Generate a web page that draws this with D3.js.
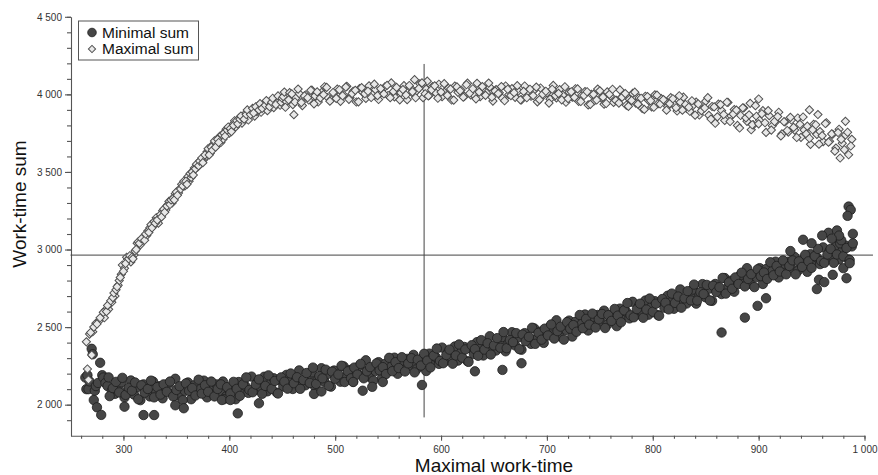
<!DOCTYPE html>
<html>
<head>
<meta charset="utf-8">
<script src="https://d3js.org/d3.v7.min.js"></script>
<style>
  body { margin: 0; background: #fff; }
  text { font-family: "Liberation Sans", Arial, sans-serif; }
</style>
</head>
<body>
<svg id="svg" width="878" height="475"></svg>
<script>
// [work-time, sum]
const minSum = [
  [264,2175],[265,2100],[266,2190],[267,2100],[268,2150],[270,2360],[271,2325],[272,2030],[273,2090],[274,2120],
  [275,1983],[276,2140],[278,2270],[279,1934],[280,2190],[281,2175],[283,2140],[285,2120],
  [286,2176],[289,2090],[292,2070],[295,2116],[298,2144],[301,2046],[304,2092],[307,2156],[310,2065],[313,2113],
  [316,2029],[319,2131],[322,2101],[325,2053],[328,2149],[331,2083],[334,2119],[337,2041],[340,2095],[343,2137],
  [346,2071],[349,2167],[352,2059],[355,2107],[358,2089],[361,2143],[364,2035],[367,2125],[370,2077],[373,2101],
  [376,2155],[379,2047],[382,2113],[385,2065],[388,2131],[391,2083],[394,2149],[397,2053],[400,2095],[403,2122],
  [406,2035],[409,2146],[412,2100],[415,2121],[418,2076],[421,2181],[424,2093],[427,2150],[430,2111],[433,2180],
  [436,2086],[439,2137],[442,2170],[445,2077],[448,2157],[451,2117],[454,2192],[457,2146],[460,2101],[463,2176],
  [466,2221],[469,2140],[472,2125],[475,2175],[478,2208],[481,2115],[484,2166],[487,2235],[490,2147],[493,2198],
  [496,2116],[499,2220],[502,2193],[505,2148],[508,2247],[511,2184],[514,2223],[517,2148],[520,2205],[523,2250],
  [526,2187],[529,2286],[532,2181],[535,2232],[538,2217],[541,2274],[544,2169],[547,2262],[550,2217],[553,2245],
  [556,2303],[559,2199],[562,2269],[565,2225],[568,2295],[571,2251],[574,2321],[577,2229],[580,2275],[583,2303],
  [586,2217],[589,2329],[592,2285],[595,2307],[598,2263],[601,2368],[604,2282],[607,2341],[610,2304],[613,2375],
  [616,2284],[619,2337],[622,2372],[625,2280],[628,2363],[631,2326],[634,2403],[637,2360],[640,2317],[643,2394],
  [646,2441],[649,2362],[652,2349],[655,2402],[658,2436],[661,2344],[664,2397],[667,2467],[670,2382],[673,2434],
  [676,2354],[679,2461],[682,2435],[685,2392],[688,2492],[691,2431],[694,2471],[697,2398],[700,2456],[703,2503],
  [706,2442],[709,2544],[712,2441],[715,2495],[718,2482],[721,2542],[724,2439],[727,2534],[730,2492],[733,2521],
  [736,2581],[739,2478],[742,2549],[745,2507],[748,2578],[751,2535],[754,2606],[757,2515],[760,2562],[763,2591],
  [766,2506],[769,2619],[772,2576],[775,2599],[778,2556],[781,2663],[784,2578],[787,2637],[790,2600],[793,2671],
  [796,2580],[799,2633],[802,2667],[805,2577],[808,2661],[811,2625],[814,2702],[817,2660],[820,2618],[823,2695],
  [826,2743],[829,2665],[832,2652],[835,2706],[838,2742],[841,2651],[844,2705],[847,2777],[850,2692],[853,2747],
  [856,2669],[859,2778],[862,2755],[865,2713],[868,2816],[871,2756],[874,2799],[877,2728],[880,2788],[883,2837],
  [886,2778],[889,2880],[892,2779],[895,2834],[898,2822],[901,2880],[904,2778],[907,2874],[910,2832],[913,2862],
  [916,2922],[919,2820],[922,2892],[925,2850],[928,2922],[931,2880],[934,2952],[937,2862],[940,2910],[943,2940],
  [946,2856],[949,2970],[952,2926],[955,2948],[958,2906],[961,3014],[964,2930],[967,2990],[970,2954],[973,3026],
  [976,2936],[979,2990],[982,3026],[985,2936],[988,3020],
  [287,2055],[290,2107],[293,2147],[296,2079],[299,2173],[302,2063],[305,2109],[308,2090],[311,2143],[314,2035],
  [317,2125],[320,2077],[323,2101],[326,2155],[329,2047],[332,2113],[335,2065],[338,2131],[341,2083],[344,2149],
  [347,2053],[350,2095],[353,2119],[356,2029],[359,2137],[362,2089],[365,2107],[368,2059],[371,2161],[374,2071],
  [377,2125],[380,2083],[383,2149],[386,2053],[389,2101],[392,2131],[395,2035],[398,2113],[401,2072],[404,2147],
  [407,2102],[410,2057],[413,2131],[416,2176],[419,2095],[422,2080],[425,2130],[428,2163],[431,2070],[434,2121],
  [437,2189],[440,2102],[443,2153],[446,2072],[449,2176],[452,2148],[455,2103],[458,2201],[461,2138],[464,2177],
  [467,2102],[470,2159],[473,2204],[476,2140],[479,2239],[482,2134],[485,2185],[488,2170],[491,2226],[494,2121],
  [497,2213],[500,2167],[503,2194],[506,2251],[509,2146],[512,2215],[515,2170],[518,2239],[521,2194],[524,2263],
  [527,2170],[530,2215],[533,2242],[536,2155],[539,2266],[542,2221],[545,2242],[548,2197],[551,2302],[554,2216],
  [557,2274],[560,2236],[563,2306],[566,2214],[569,2266],[572,2300],[575,2208],[578,2290],[581,2252],[584,2328],
  [587,2284],[590,2240],[593,2316],[596,2362],[599,2282],[602,2267],[605,2320],[608,2355],[611,2264],[614,2317],
  [617,2388],[620,2303],[623,2356],[626,2276],[629,2383],[632,2358],[635,2315],[638,2416],[641,2355],[644,2396],
  [647,2323],[650,2382],[653,2429],[656,2367],[659,2468],[662,2364],[665,2417],[668,2403],[671,2461],[674,2358],
  [677,2452],[680,2409],[683,2437],[686,2496],[689,2392],[692,2463],[695,2419],[698,2490],[701,2446],[704,2517],
  [707,2426],[710,2474],[713,2503],[716,2419],[719,2532],[722,2490],[725,2513],[728,2470],[731,2578],[734,2493],
  [737,2553],[740,2516],[743,2587],[746,2497],[749,2550],[752,2585],[755,2494],[758,2577],[761,2540],[764,2617],
  [767,2574],[770,2531],[773,2608],[776,2655],[779,2576],[782,2563],[785,2616],[788,2651],[791,2560],[794,2613],
  [797,2684],[800,2599],[803,2651],[806,2573],[809,2681],[812,2657],[815,2614],[818,2716],[821,2656],[824,2697],
  [827,2625],[830,2685],[833,2732],[836,2672],[839,2774],[842,2671],[845,2725],[848,2713],[851,2772],[854,2671],
  [857,2767],[860,2726],[863,2757],[866,2817],[869,2716],[872,2788],[875,2747],[878,2820],[881,2778],[884,2851],
  [887,2762],[890,2810],[893,2841],[896,2758],[899,2872],[902,2828],[905,2852],[908,2810],[911,2918],[914,2834],
  [917,2894],[920,2858],[923,2930],[926,2840],[929,2894],[932,2930],[935,2840],[938,2924],[941,2888],[944,2966],
  [947,2924],[950,2882],[953,2958],[956,3004],[959,2926],[962,2914],[965,2968],[968,3004],[971,2914],[974,2968],
  [977,3040],[980,2956],[983,3010],[986,2932],[989,3040],
  // scattered points
  [301,1987],[319,1933],[329,1933],[349,1996],[357,1977],[408,1944],[393,2030],[401,2030],[428,2009],[480,2069],
  [487,2085],[526,2090],[535,2115],[545,2146],[517,2146],[582,2127],[632,2215],[658,2224],[676,2267],[865,2465],
  [887,2561],[899,2637],[907,2686],[955,2745],[983,2815],[970,2837],[985,3277],[987,3256],[984,3217],[989,3101],
  [942,3063],[966,3108],[974,3123],[960,3090],[950,3040],[978,3060],[930,2990],[957,2805],[962,2790],[980,2880],
  [986,2912],[976,3090],[969,3070]
];

const maxSum = [
  [265,2405],[266,2230],[267,2160],[268,2455],[270,2320],[271,2470],[274,2525],[277,2540],[280,2570],[282,2560],
  [283,2610],[286,2615],[287,2650],[289,2660],[292,2700],[295,2770],[296,2800],[298,2840],[299,2900],[301,2880],
  [303,2950],[304,2935],[307,2920],[310,2965],[311,2990],[313,3040],[316,3030],[318,3060],[319,3075],[322,3090],
  [323,3120],[325,3140],[328,3150],[331,3205],[333,3170],[334,3200],[337,3250],[340,3255],[342,3290],[343,3310],
  [346,3300],[349,3360],[352,3365],[353,3390],[355,3420],[358,3410],[361,3470],[362,3440],[364,3465],[367,3525],
  [370,3530],[373,3575],[376,3580],[378,3600],[379,3630],[382,3620],[385,3680],[388,3670],[391,3730],[392,3690],
  [394,3710],[397,3775],[400,3750],[403,3805],[405,3830],[406,3790],[409,3845],[412,3815],[413,3850],[415,3875],
  [418,3835],[419,3880],[421,3895],[424,3860],[426,3890],[427,3925],[430,3885],[432,3920],[433,3940],[436,3895],
  [437,3930],[439,3955],[442,3915],[443,3950],[445,3970],[447,3960],[448,3930],
  [269,2465],[272,2500],[275,2520],[278,2560],[281,2595],[284,2600],[285,2640],[288,2670],[290,2690],[291,2720],
  [293,2740],[294,2760],[297,2820],[300,2860],[302,2910],[305,2940],[306,2960],[308,2950],[309,2940],[312,3000],
  [314,3050],[315,3040],[317,3070],[320,3060],[321,3100],[324,3110],[326,3160],[327,3140],[329,3180],[330,3170],
  [332,3190],[335,3225],[336,3210],[338,3260],[339,3240],[341,3280],[344,3290],[345,3320],[347,3330],[348,3320],
  [350,3370],[351,3350],[354,3390],[356,3410],[357,3440],[359,3440],[360,3420],[363,3490],[365,3500],[366,3480],
  [368,3520],[369,3550],[371,3540],[372,3570],[374,3590],[375,3560],[377,3610],[380,3650],[381,3610],[383,3660],
  [384,3640],[386,3700],[387,3660],[389,3710],[390,3690],[393,3740],[395,3750],[396,3730],[398,3770],[399,3790],
  [401,3780],[402,3760],[404,3800],[407,3830],[408,3810],[410,3840],[411,3860],[414,3840],[416,3870],[417,3900],
  [420,3870],[422,3910],[423,3880],[425,3920],[428,3900],[429,3940],[431,3910],[434,3930],[435,3960],[438,3920],
  [440,3950],[441,3975],[444,3935],[446,3990],[449,3950],[450,3975],
  [451,3985],[452,4015],[454,3953],[457,4011],[460,3934],[461,3869],[463,3977],[466,4005],[469,3928],[472,3996],
  [475,3964],[478,4027],[481,3990],[484,3951],[487,4012],[490,4049],[493,3980],[496,3966],[499,4008],[502,4034],
  [505,3955],[508,3996],[511,4052],[514,3979],[517,4020],[520,3951],[523,4037],[526,4013],[529,3974],[532,4055],
  [535,4001],[538,4031],[541,3967],[544,4012],[547,4048],[550,3993],[553,4074],[556,3984],[559,4025],[562,4010],
  [565,4056],[568,3966],[571,4042],[574,4002],[575,4095],[577,4023],[580,4068],[583,3979],[586,4034],[587,4085],
  [589,3995],[592,4050],[595,4010],[598,4065],[601,3985],[604,4019],[607,4039],[610,3964],[613,4053],[616,4013],
  [619,4028],[622,3987],[625,4072],[628,3997],[631,3996],[634,4071],[637,3985],[640,4025],[643,4009],[646,4048],
  [649,3957],[652,4031],[655,4010],[658,3975],[661,4054],[664,3998],[667,4037],[670,3981],[673,4021],[676,3965],
  [679,4054],[682,4008],[685,3988],[688,4027],[691,3952],[694,4041],[697,3996],[700,4010],[703,3969],[706,4058],
  [709,3977],[712,4031],[715,3995],[718,3949],[721,4013],[724,3982],[727,4036],[730,3955],[733,3994],[736,4018],
  [739,3932],[742,4001],[745,3960],[748,4034],[751,3978],[754,3937],[757,4016],[760,3990],[763,3948],[766,3961],
  [769,4029],[772,3992],[775,3930],[778,3968],[781,4006],[784,3944],[787,3977],[790,3910],[793,3988],[796,3961],
  [799,3919],[802,3997],[805,3940],[808,3973],[811,3960],[814,3922],[817,3979],[820,3936],[823,3893],[826,3950],
  [829,3982],[832,3909],[835,3891],[838,3928],[841,3950],[844,3867],[847,3904],[850,3956],[853,3865],[856,3922],
  [859,3814],[862,3937],[865,3896],[868,3832],[871,3948],[874,3861],[877,3902],[880,3800],[883,3864],[886,3912],
  [889,3826],[892,3942],[893,3772],[895,3803],[898,3859],[900,3970],[901,3832],[904,3895],[907,3755],[910,3863],
  [913,3798],[916,3823],[919,3885],[922,3745],[925,3822],[928,3757],[931,3835],[934,3770],[937,3848],[940,3723],
  [943,3770],[946,3795],[948,3900],[949,3678],[952,3807],[955,3742],[956,3870],[958,3760],[961,3695],[964,3817],
  [967,3698],[970,3743],[973,3654],[976,3775],[977,3590],[979,3685],[982,3738],[982,3826],[985,3611],[988,3710],
  [453,3917],[456,3965],[459,4003],[462,3951],[465,4034],[468,3947],[471,3990],[474,3978],[477,4026],[480,3939],
  [483,4016],[486,3977],[489,3998],[492,4045],[495,3956],[498,4012],[501,3974],[504,4030],[507,3991],[510,4047],
  [513,3968],[516,4005],[519,4026],[522,3952],[525,4043],[528,4004],[531,4020],[534,3980],[537,4066],[540,3992],
  [543,4037],[546,4003],[549,4058],[552,3979],[555,4019],[558,4045],[561,3965],[564,4031],[567,3996],[570,4057],
  [573,4017],[576,3978],[579,4038],[582,4074],[585,4004],[588,3990],[591,4030],[594,4055],[597,3975],[600,4015],
  [603,4069],[606,3994],[609,4034],[612,3963],[615,4048],[618,4023],[621,3982],[624,4062],[627,4007],[630,4036],
  [633,3971],[636,4015],[639,4050],[642,3994],[645,4073],[648,3982],[651,4021],[654,4005],[657,4050],[660,3959],
  [663,4033],[666,3992],[669,4011],[672,4056],[675,3965],[678,4019],[681,3978],[684,4033],[687,3992],[690,4047],
  [693,3966],[696,4001],[699,4020],[702,3944],[705,4033],[708,3992],[711,4006],[714,3965],[717,4049],[720,3973],
  [723,4017],[726,3981],[729,4035],[732,3954],[735,3993],[738,4017],[741,3936],[744,4000],[747,3964],[750,4023],
  [753,3982],[756,3941],[759,4000],[762,4033],[765,3961],[768,3944],[771,3982],[774,4005],[777,3923],[780,3961],
  [783,4014],[786,3937],[789,3975],[792,3903],[795,3986],[798,3959],[801,3917],[804,3995],[807,3938],[810,3966],
  [813,3898],[816,3940],[819,3972],[822,3914],[825,3991],[828,3898],[831,3935],[834,3917],[837,3959],[840,3866],
  [843,3938],[846,3895],[849,3912],[852,3979],[855,3841],[858,3919],[861,3855],[864,3934],[867,3870],[870,3949],
  [873,3825],[876,3873],[879,3899],[882,3783],[885,3913],[888,3849],[891,3868],[894,3804],[897,3927],[900,3810],
  [903,3875],[906,3817],[909,3895],[912,3770],[915,3825],[918,3857],[921,3732],[924,3824],[927,3767],[930,3852],
  [933,3787],[936,3722],[939,3807],[942,3854],[945,3745],[948,3717],[951,3772],[954,3804],[957,3679],[960,3734],
  [963,3812],[966,3692],[969,3745],[972,3634],[975,3754],[978,3710],[981,3643],[984,3756],[987,3667]
];

const xTicks = [300, 400, 500, 600, 700, 800, 900, 1000];
const yTicks = [2000, 2500, 3000, 3500, 4000, 4500];
const vLine = [[584, 1918], [584, 4196]];
const hLine = [[250, 2964], [1008, 2964]];
const seriesNames = ["Minimal sum", "Maximal sum"];

const svg = d3.select("#svg");
const x = d3.scaleLinear().domain([250, 1000]).range([70.5, 864.5]);
const y = d3.scaleLinear().domain([1800, 4500]).range([435.7, 16.8]);
const fmt = d3.formatLocale({decimal: ".", thousands: " ", grouping: [3], currency: ["", ""]}).format(",");

// minor ticks
svg.append("g").attr("transform", "translate(0,435.7)")
  .call(d3.axisBottom(x).tickValues(d3.range(260, 1001, 20)).tickSize(3).tickFormat(""))
  .call(g => g.select(".domain").remove());
svg.append("g").attr("transform", "translate(71,0)")
  .call(d3.axisLeft(y).tickValues(d3.range(1900, 4501, 100)).tickSize(4).tickFormat(""))
  .call(g => g.select(".domain").remove());

svg.append("g").attr("transform", "translate(0,435.7)")
  .call(d3.axisBottom(x).tickValues(xTicks).tickSize(5).tickSizeOuter(0).tickPadding(5).tickFormat(fmt));
svg.append("g").attr("transform", "translate(71,0)")
  .call(d3.axisLeft(y).tickValues(yTicks).tickSize(6).tickSizeOuter(0).tickPadding(3).tickFormat(fmt));

svg.selectAll(".tick line, .domain").attr("stroke", "#555").attr("stroke-width", 1.1);
svg.selectAll(".tick text").attr("fill", "#333").attr("font-size", 10)
  .attr("font-family", "Liberation Sans, Arial, sans-serif");

// reference lines
const line = d3.line().x(d => x(d[0])).y(d => y(d[1]));
svg.append("path").attr("d", line(vLine)).attr("stroke", "#444").attr("fill", "none");
svg.append("path").attr("d", line(hLine)).attr("stroke", "#444").attr("fill", "none");

// points
svg.append("g").selectAll("circle").data(minSum).join("circle")
  .attr("cx", d => x(d[0])).attr("cy", d => y(d[1])).attr("r", 4.7)
  .attr("fill", "#464646").attr("stroke", "#1e1e1e").attr("stroke-width", 0.8);

const diamond = d3.symbol(d3.symbolSquare, 34);
svg.append("g").selectAll("path").data(maxSum).join("path")
  .attr("d", diamond)
  .attr("transform", d => `translate(${x(d[0])},${y(d[1])}) rotate(45)`)
  .attr("fill", "#e8e8e8").attr("stroke", "#505050").attr("stroke-width", 1);

// axis titles
svg.append("text").attr("x", 494).attr("y", 472).attr("text-anchor", "middle")
  .attr("font-size", 19).attr("fill", "#111").text("Maximal work-time");
svg.append("text").attr("transform", "translate(26,204) rotate(-90)").attr("text-anchor", "middle")
  .attr("font-size", 19).attr("fill", "#111").text("Work-time sum");

// legend
const lg = svg.append("g");
lg.append("rect").attr("x", 78.5).attr("y", 21).attr("width", 120).attr("height", 39)
  .attr("fill", "#fff").attr("stroke", "#555");
lg.append("circle").attr("cx", 92).attr("cy", 32.5).attr("r", 4.3)
  .attr("fill", "#464646").attr("stroke", "#1e1e1e").attr("stroke-width", 0.8);
lg.append("path").attr("d", d3.symbol(d3.symbolSquare, 26))
  .attr("transform", "translate(92,49) rotate(45)")
  .attr("fill", "#e8e8e8").attr("stroke", "#505050");
lg.selectAll("text").data(seriesNames).join("text")
  .attr("x", 102).attr("y", (d, i) => 37.5 + i * 16.5)
  .attr("font-size", 15.5).attr("fill", "#111").text(d => d);
</script>
</body>
</html>
